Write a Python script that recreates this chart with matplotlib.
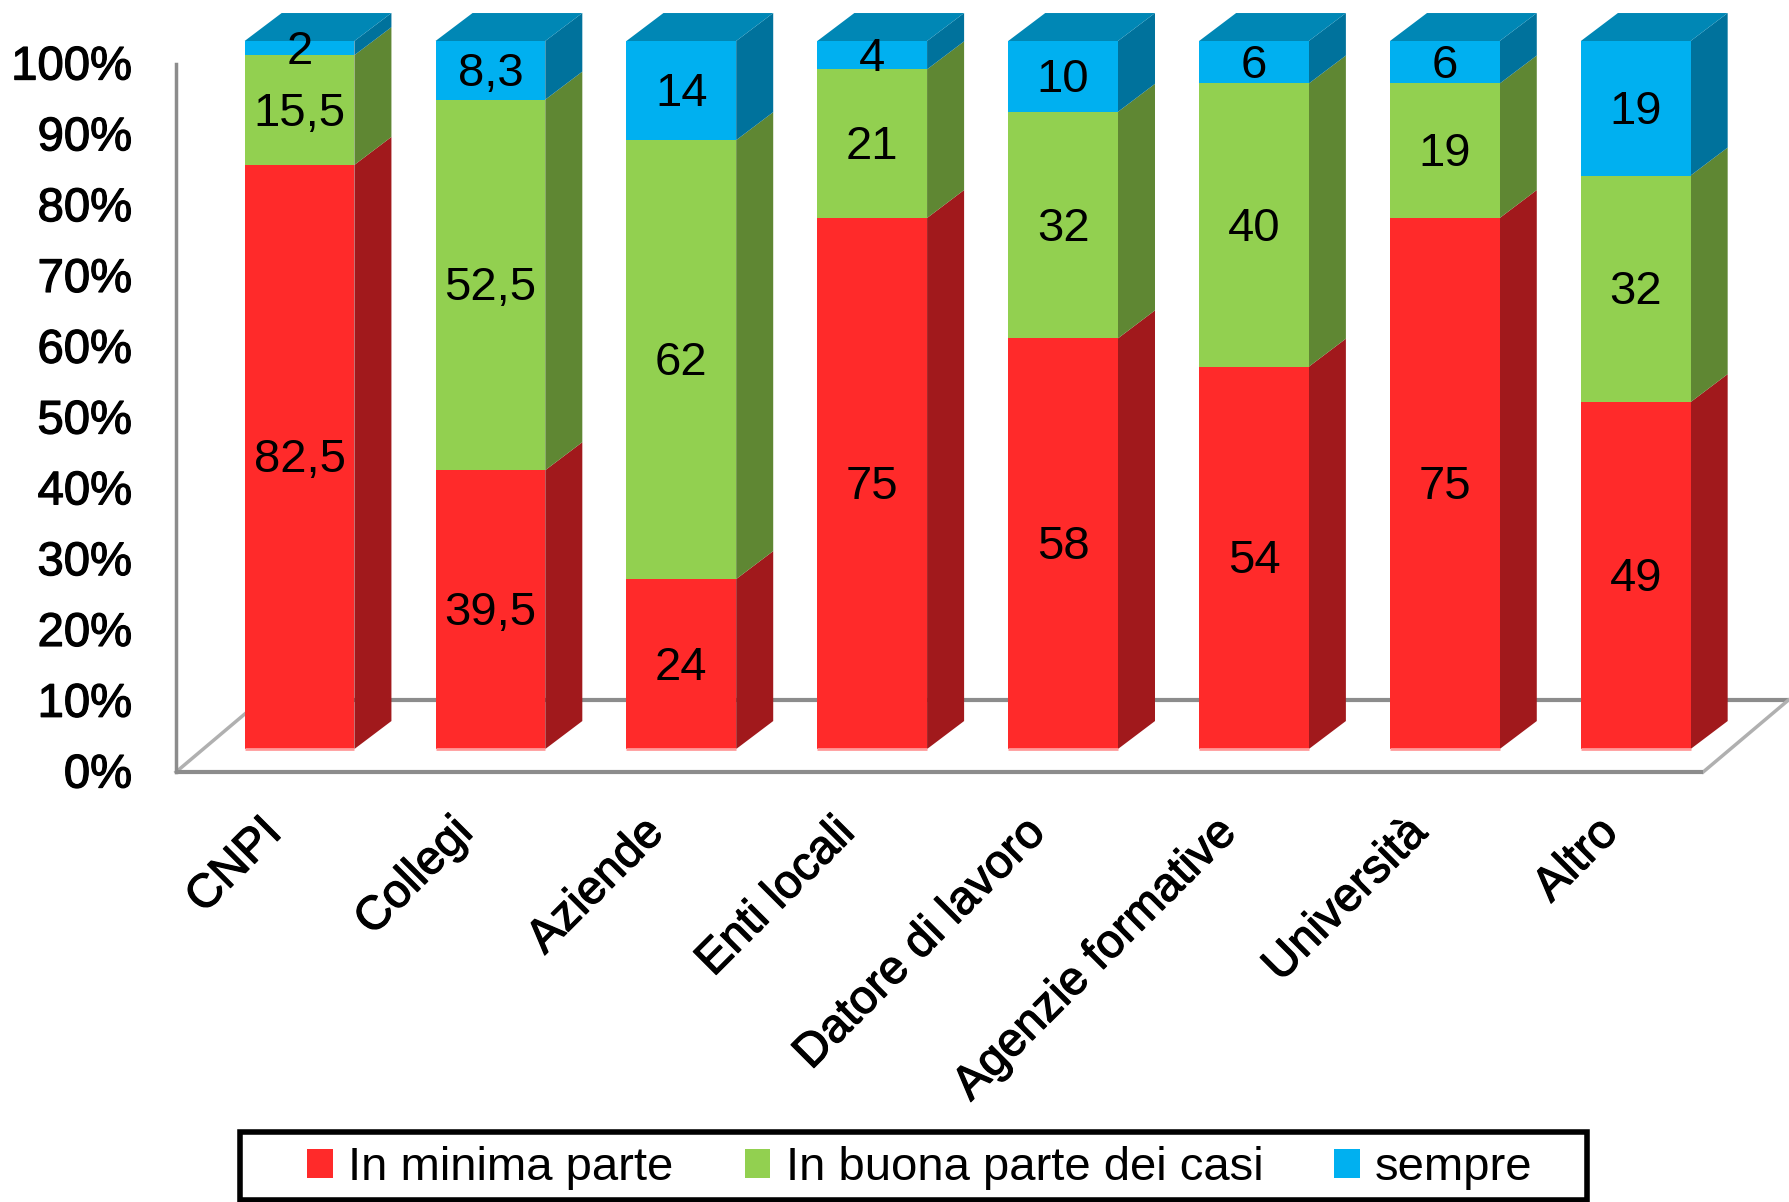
import numpy as np
import matplotlib.pyplot as plt
from matplotlib.patches import Polygon, Rectangle, Patch
import matplotlib.patheffects as pe

plt.rcParams["font.family"] = ["Liberation Sans", "DejaVu Sans"]

categories = ["CNPI", "Collegi", "Aziende", "Enti locali", "Datore di lavoro",
              "Agenzie formative", "Università", "Altro"]
series_names = ["In minima parte", "In buona parte dei casi", "sempre"]
minima = [82.5, 39.5, 24, 75, 58, 54, 75, 49]
buona = [15.5, 52.5, 62, 21, 32, 40, 19, 32]
sempre = [2, 8.3, 14, 4, 10, 6, 6, 19]
yticks = [0, 10, 20, 30, 40, 50, 60, 70, 80, 90, 100]

front_colors = ["#FF2A2A", "#92D050", "#00B0F0"]
side_colors = ["#A1191C", "#5F8733", "#00729C"]
top_colors = ["#C22024", "#73A53E", "#0087B5"]

# fake 3d offsets, in data units (x: categories, y: percent)
bar_w = 0.575
depth = (0.194, 3.95)      # bar front -> bar back
front = (-0.147, -3.25)    # bar front -> front of the floor / axis plane
back = (0.30, 6.92)        # bar front -> back of the floor
fs = 34
text_dy = -0.5
stroke = [pe.withStroke(linewidth=0.9, foreground="black")]

fig = plt.figure(figsize=(17.9, 12.02), dpi=100)
ax = fig.add_axes([0, 0, 1, 1])
ax.set_xlim(-1.569, 7.808)
ax.set_ylim(-63.98, 105.79)
ax.axis("off")

n = len(categories)
x = np.arange(n)
data = np.array([minima, buona, sempre])
pct = data / data.sum(axis=0) * 100

# floor and left wall
gray = "#8C8C8C"
x0, x1 = -0.5, n - 0.5
fl = [(x0 + front[0], front[1]), (x1 + front[0], front[1]),
      (x1 + back[0], back[1]), (x0 + back[0], back[1])]
ax.plot([fl[3][0], fl[2][0]], [fl[3][1], fl[2][1]], color=gray, lw=3, zorder=1,
        solid_capstyle="butt")
ax.plot([fl[0][0], fl[3][0]], [fl[0][1], fl[3][1]], color="#B0B0B0", lw=2.5, zorder=1)
ax.plot([fl[1][0], fl[2][0]], [fl[1][1], fl[2][1]], color="#B0B0B0", lw=2.5, zorder=1)
ax.plot([fl[0][0], fl[1][0]], [fl[0][1], fl[1][1]], color=gray, lw=3, zorder=1,
        solid_capstyle="butt")
ax.plot([fl[0][0], fl[0][0]], [front[1], 100 + front[1]], color=gray, lw=2.5, zorder=1)

for t in yticks:
    ax.text(fl[0][0] - 0.23, t + front[1] + text_dy, f"{t}%", ha="right", va="center",
            fontsize=fs, path_effects=stroke)

bottoms = np.zeros(n)
for s in range(3):
    vals = pct[s]
    for i in range(n):
        lx, rx = x[i] - bar_w / 2, x[i] + bar_w / 2
        b, t = bottoms[i], bottoms[i] + vals[i]
        side = Polygon([(rx, b), (rx, t), (rx + depth[0], t + depth[1]),
                        (rx + depth[0], b + depth[1])], closed=True,
                       facecolor=side_colors[s], edgecolor="none", zorder=2)
        ax.add_patch(side)
        if s == 2:
            top = Polygon([(lx, t), (rx, t), (rx + depth[0], t + depth[1]),
                           (lx + depth[0], t + depth[1])], closed=True,
                          facecolor=top_colors[s], edgecolor="none", zorder=2)
            ax.add_patch(top)
    ax.bar(x, vals, bar_w, bottom=bottoms, color=front_colors[s], linewidth=0, zorder=3)
    for i in range(n):
        lab = f"{data[s][i]:g}".replace(".", ",")
        ax.text(x[i], bottoms[i] + vals[i] / 2 + text_dy, lab, ha="center", va="center",
                fontsize=fs, zorder=5)
    bottoms += vals

# light edge at the bottom of the bars
ax.hlines(np.zeros(n), x - bar_w / 2, x + bar_w / 2, color="#FF9A9A", lw=2, zorder=4)

for i, c in enumerate(categories):
    ax.text(x[i] - 0.21, -8.7, c, rotation=45, rotation_mode="anchor",
            ha="right", va="top", fontsize=fs, path_effects=stroke)

# legend
W, H = 1790, 1202
fig.patches.append(Rectangle((240 / W, 2 / H), 1347 / W, 68 / H, transform=fig.transFigure,
                             facecolor="white", edgecolor="black", lw=4, zorder=0))
handles = [Patch(facecolor=front_colors[s], edgecolor="none") for s in range(3)]
fig.legend(handles, series_names, loc="center", bbox_to_anchor=(920 / W, 34 / H),
           ncol=3, frameon=False, fontsize=fs, handlelength=0.55, handleheight=0.55,
           handletextpad=0.32, columnspacing=1.5, borderpad=0, borderaxespad=0)

fig.savefig("out.png", dpi=100)
